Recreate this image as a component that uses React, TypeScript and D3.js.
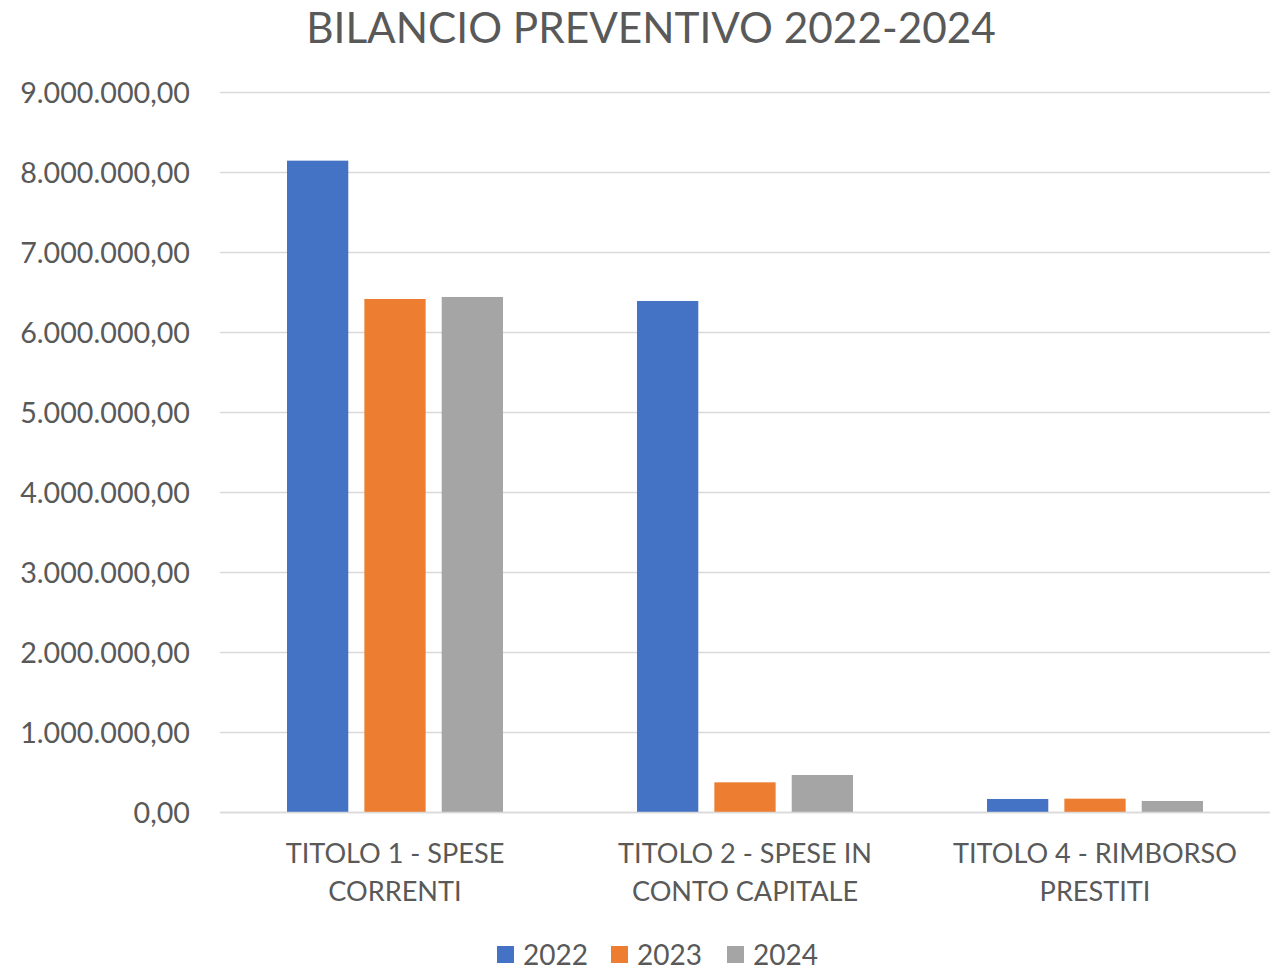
import React from "react";
import * as d3 from "d3";

const categories = [
  ["TITOLO 1 - SPESE", "CORRENTI"],
  ["TITOLO 2 - SPESE IN", "CONTO CAPITALE"],
  ["TITOLO 4 - RIMBORSO", "PRESTITI"],
];
const seriesNames = ["2022", "2023", "2024"];
const values2022 = [8148000, 6394000, 169000];
const values2023 = [6419000, 377000, 173000];
const values2024 = [6444000, 469000, 144000];
const seriesValues = [values2022, values2023, values2024];
const colors = ["#4472C4", "#ED7D31", "#A5A5A5"];
const yTicks = [0, 1e6, 2e6, 3e6, 4e6, 5e6, 6e6, 7e6, 8e6, 9e6];

const W = 1281;
const H = 971;
const left = 220;
const right = 1270;
const top = 92.5;
const bottom = 812.5;
const FONT = "Lato, 'Open Sans', sans-serif";
const TXT = "#595959";

function fmt(v: number) {
  const s = Math.round(v).toString().replace(/\B(?=(\d{3})+(?!\d))/g, ".");
  return s + ",00";
}

export default function App() {
  const y = d3.scaleLinear().domain([0, 9e6]).range([bottom, top]);
  const x0 = d3
    .scaleBand<number>()
    .domain(categories.map((_, i) => i))
    .range([left, right])
    .paddingInner(0)
    .paddingOuter(0);
  const x1 = d3
    .scaleBand<number>()
    .domain(seriesNames.map((_, i) => i))
    .range([67, x0.bandwidth() - 67])
    .paddingInner(16 / 77)
    .paddingOuter(0);

  const legendItems = [
    { sq: 497, tx: 523 },
    { sq: 611, tx: 637 },
    { sq: 727, tx: 753 },
  ];

  return (
    <svg
      width={W}
      height={H}
      style={{ position: "absolute", left: 0, top: 0, background: "#fff" }}
    >
      <rect x={0} y={0} width={W} height={H} fill="#fff" />
      <text
        x={651}
        y={43}
        textAnchor="middle"
        fontFamily={FONT}
        fontSize={42.3}
        fill={TXT}
      >
        BILANCIO PREVENTIVO 2022-2024
      </text>
      {yTicks.map((t) => (
        <g key={t}>
          <line
            x1={left}
            x2={right}
            y1={y(t)}
            y2={y(t)}
            stroke="#D9D9D9"
            strokeWidth={1.5}
          />
          <text
            x={190}
            y={y(t)}
            dy="0.36em"
            textAnchor="end"
            fontFamily={FONT}
            fontSize={28.7}
            fill={TXT}
          >
            {fmt(t)}
          </text>
        </g>
      ))}
      {categories.map((cat, ci) => (
        <g key={ci} transform={`translate(${x0(ci)},0)`}>
          {seriesValues.map((vals, si) => (
            <rect
              key={si}
              x={x1(si)}
              y={y(vals[ci])}
              width={x1.bandwidth()}
              height={bottom - y(vals[ci])}
              fill={colors[si]}
            />
          ))}
          {cat.map((line, li) => (
            <text
              key={li}
              x={x0.bandwidth() / 2}
              y={863 + li * 38}
              textAnchor="middle"
              fontFamily={FONT}
              fontSize={27.1}
              fill={TXT}
            >
              {line}
            </text>
          ))}
        </g>
      ))}
      <line
        x1={left}
        x2={right}
        y1={bottom}
        y2={bottom}
        stroke="#D9D9D9"
        strokeWidth={1.5}
      />
      {seriesNames.map((s, i) => (
        <g key={s}>
          <rect
            x={legendItems[i].sq}
            y={946}
            width={17}
            height={17}
            fill={colors[i]}
          />
          <text
            x={legendItems[i].tx}
            y={965}
            fontFamily={FONT}
            fontSize={28}
            fill={TXT}
          >
            {s}
          </text>
        </g>
      ))}
    </svg>
  );
}
